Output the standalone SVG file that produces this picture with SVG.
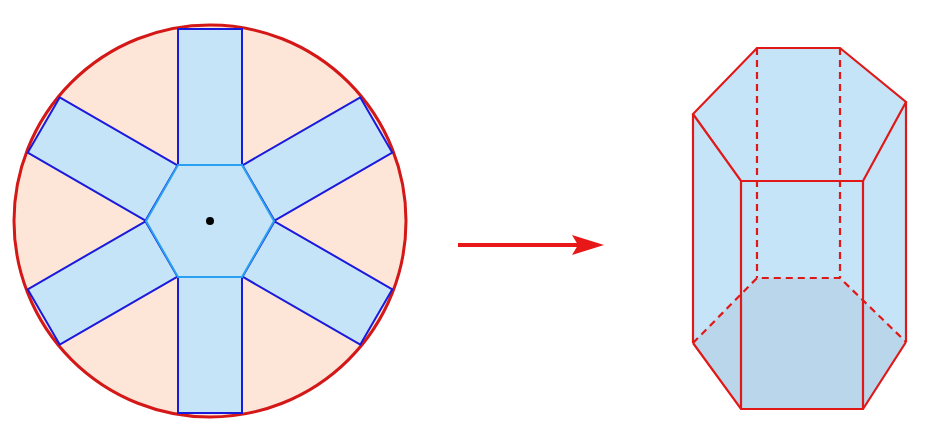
<svg xmlns="http://www.w3.org/2000/svg" width="944" height="429" viewBox="0 0 944 429">
<style>
.arm{fill:#c5e4f8;stroke:#1a1adc;stroke-width:2}
.r{stroke:#e01818;stroke-width:2.2;fill:none}
.d{stroke-dasharray:7,5}
</style>
<rect width="944" height="429" fill="#fff"/>
<g id="net">
<circle cx="210" cy="221" r="196" fill="#fde5d8" stroke="#d41818" stroke-width="3"/>
<rect class="arm" x="178" y="29" width="64" height="136"/>
<rect class="arm" x="178" y="29" width="64" height="136" transform="rotate(60 210 221)"/>
<rect class="arm" x="178" y="29" width="64" height="136" transform="rotate(120 210 221)"/>
<rect class="arm" x="178" y="29" width="64" height="136" transform="rotate(180 210 221)"/>
<rect class="arm" x="178" y="29" width="64" height="136" transform="rotate(240 210 221)"/>
<rect class="arm" x="178" y="29" width="64" height="136" transform="rotate(300 210 221)"/>
<polygon points="178,165 242,165 274,221 242,277 178,277 146,221" fill="#c5e4f8" stroke="#2aa0f0" stroke-width="2"/>
<circle cx="210" cy="221" r="4" fill="#000"/>
</g>
<g id="connectors">
<line x1="458" y1="245" x2="582" y2="245" stroke="#e81818" stroke-width="4"/>
<polygon points="604,245 572,235 578,245 572,255" fill="#e81818"/>
</g>
<g id="prism">
<polygon points="757,48 840,48 906,102 906,342 863,409 741,409 693,343 693,114" fill="#c5e4f8"/>
<polygon points="757,278 840,278 906,342 863,409 741,409 693,343" fill="#b9d6ea"/>
<g class="r d">
<line x1="757" y1="48" x2="757" y2="278"/><line x1="840" y1="48" x2="840" y2="278"/>
<polyline points="693,343 757,278 840,278 906,342"/>
</g>
<g class="r">
<polygon points="757,48 840,48 906,102 863,181 741,181 693,114"/>
<line x1="693" y1="114" x2="693" y2="343"/><line x1="741" y1="181" x2="741" y2="409"/>
<line x1="863" y1="181" x2="863" y2="409"/><line x1="906" y1="102" x2="906" y2="342"/>
<polyline points="693,343 741,409 863,409 906,342"/>
</g>
</g>
</svg>
